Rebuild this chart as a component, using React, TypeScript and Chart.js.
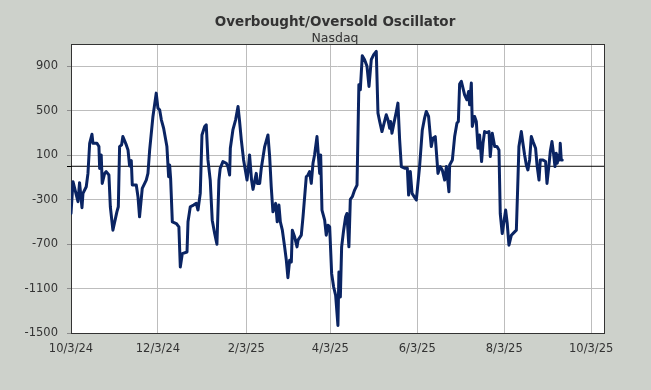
import React, { useEffect, useRef } from 'react';
import { Chart, registerables } from 'chart.js';

Chart.register(...registerables);

const chartTitle = 'Overbought/Oversold Oscillator';
const chartSubtitle = 'Nasdaq';
const seriesName = 'Nasdaq Overbought/Oversold';

const startDate = '10/3/24';
const axisEndDate = '10/12/25';
const xTickLabels = ['10/3/24', '12/3/24', '2/3/25', '4/3/25', '6/3/25', '8/3/25', '10/3/25'];
const yTickValues = [-1500, -1100, -700, -300, 100, 500, 900];
const yMin = -1500;
const yMax = 1100;
const zeroLevel = 0;

// days since startDate
const dayOffsets = [
  0, 1.4, 4.9, 6.0, 7.7, 8.4, 10.7, 11.9, 13.1, 14.7, 15.4, 18.2, 19.6, 20.1, 21.2, 21.9, 23.6, 24.7, 26.6, 27.6,
  29.4, 32.2, 33.2, 34.1, 35.5, 36.4, 38.8, 40.0, 41.1, 42.3, 43.0, 45.8, 47.0, 48.1, 50.0, 52.8, 54.0, 55.2, 57.5, 59.8,
  61.0, 62.2, 63.4, 65.0, 67.3, 68.5, 69.2, 69.9, 71.1, 73.9, 75.7, 76.7, 78.1, 81.4, 82.1, 83.7, 86.0, 87.9, 89.1, 90.7,
  91.9, 93.8, 94.9, 96.1, 97.7, 99.1, 100.8, 102.4, 103.8, 104.7, 106.6, 109.0, 110.1, 111.3, 111.8, 113.6, 115.5, 117.2, 118.3, 119.5,
  121.1, 122.5, 123.5, 124.2, 125.3, 126.7, 127.7, 128.8, 130.0, 130.7, 132.4, 133.5, 135.9, 138.2, 139.4, 140.5, 141.7, 143.6, 144.7, 145.9,
  146.9, 148.3, 149.9, 151.1, 152.2, 153.4, 154.6, 155.3, 156.9, 158.6, 159.3, 161.6, 162.8, 165.1, 166.3, 167.4, 168.6, 169.8, 170.9, 172.6,
  174.5, 175.2, 176.1, 178.0, 179.1, 180.3, 181.5, 182.9, 184.3, 185.7, 187.3, 188.0, 189.0, 189.9, 191.3, 192.7, 193.6, 195.0, 196.0, 197.4,
  199.0, 200.7, 202.0, 203.0, 204.4, 206.0, 207.7, 209.1, 210.7, 212.4, 214.2, 215.4, 216.6, 218.2, 219.4, 221.2, 222.4, 223.6, 224.3, 225.2,
  226.6, 228.3, 229.4, 230.6, 231.8, 234.1, 236.0, 236.9, 238.1, 239.3, 242.3, 244.6, 246.5, 248.1, 249.3, 250.9, 252.8, 254.0, 255.6, 257.5,
  259.1, 260.5, 262.2, 263.4, 265.2, 265.7, 267.6, 269.2, 270.8, 271.8, 272.7, 273.9, 276.2, 277.8, 279.0, 279.7, 280.9, 281.6, 283.2, 284.4,
  285.6, 286.7, 288.1, 289.1, 290.2, 291.9, 293.3, 294.2, 295.6, 297.3, 298.9, 300.3, 301.2, 302.6, 303.6, 305.0, 306.1, 307.3, 309.0, 310.6,
  312.5, 313.6, 314.3, 316.0, 317.1, 318.3, 319.5, 320.6, 321.8, 323.0, 324.2, 326.0, 327.0, 328.4, 329.3, 331.2, 333.0, 334.0, 335.4, 336.3,
  337.5, 338.7, 339.6, 340.5, 341.2, 342.2, 342.9, 343.3, 344.0, 344.7,
];

const oscillatorValues = [
  -425, -139, -319, -148, -373, -244, -184, -64, 207, 288, 207, 207, 177, -19, 102, -154, -64, -48, -78, -364,
  -575, -410, -364, 177, 192, 267, 192, 147, 3, 51, -169, -169, -274, -455, -199, -124, -64, 147, 448, 658,
  523, 508, 418, 342, 177, -94, 12, -109, -500, -515, -545, -906, -786, -771, -500, -364, -349, -334, -394, -244,
  282, 358, 373, 57, -124, -485, -605, -701, -124, -19, 42, 27, -3, -78, 162, 327, 418, 538, 403, 237,
  57, -48, -124, -48, 102, -124, -208, -139, -64, -154, -154, -20, 177, 282, 87, -184, -410, -334, -500, -349,
  -500, -575, -725, -846, -1002, -846, -861, -575, -635, -725, -665, -620, -455, -94, -78, -48, -154, 27, 102, 267,
  -64, 102, -394, -485, -620, -530, -545, -966, -1086, -1161, -1432, -951, -1176, -725, -575, -455, -425, -725, -298, -274,
  -214, -169, 734, 688, 995, 959, 899, 718, 959, 1004, 1034, 478, 403, 312, 373, 463, 418, 342, 403, 297,
  388, 493, 568, 237, -3, -18, -18, -259, -48, -244, -304, -3, 327, 433, 493, 448, 177, 252, 267, -64,
  -3, -33, -124, -3, -229, 12, 57, 267, 388, 403, 740, 764, 643, 598, 673, 553, 749, 358, 448, 403,
  162, 282, 42, 207, 312, 303, 312, 87, 297, 177, 177, 147, -425, -605, -515, -394, -515, -710, -620, -599,
  -575, -124, 177, 312, 207, 102, 12, -33, 57, 267, 222, 162, 12, -124, 57, 57, 42, -154, 12, 132,
  222, 102, -3, 117, 27, 102, 57, 207, 57, 57,
];

const BG = '#cdd1cb';
const TEXT = '#333333';
const LINE = '#0a2463';
const GRID = '#bdbdbd';
const TICK = '#8c8c8c';
const FRAME = '#333333';

function parseMDY(s: string): number {
  const [m, d, y] = s.split('/').map(Number);
  return Date.UTC(2000 + y, m - 1, d) / 86400000;
}
const startDay = parseMDY(startDate);
const toOffset = (s: string) => parseMDY(s) - startDay;

const framePlugin = {
  id: 'framePlugin',
  beforeDraw(chart: any) {
    const { ctx, chartArea: a, width, height } = chart;
    ctx.save();
    ctx.fillStyle = BG;
    ctx.fillRect(0, 0, width, height);
    ctx.fillStyle = '#ffffff';
    ctx.fillRect(a.left, a.top, a.right - a.left, a.bottom - a.top);
    ctx.restore();
  },
  beforeDatasetsDraw(chart: any) {
    const { ctx, chartArea: a, scales } = chart;
    ctx.save();
    ctx.strokeStyle = FRAME;
    ctx.lineWidth = 1;
    ctx.strokeRect(Math.round(a.left) + 0.5, Math.round(a.top) + 0.5, Math.round(a.right - a.left), Math.round(a.bottom - a.top));
    // short stub of the zero line outside the axis
    const y0 = Math.round(scales.y.getPixelForValue(zeroLevel)) + 0.5;
    ctx.strokeStyle = '#000000';
    ctx.beginPath();
    ctx.moveTo(a.left - 4, y0);
    ctx.lineTo(a.left, y0);
    ctx.stroke();
    ctx.restore();
  },
  afterDraw(chart: any) {
    const { ctx } = chart;
    ctx.save();
    ctx.fillStyle = TEXT;
    ctx.textAlign = 'center';
    ctx.textBaseline = 'alphabetic';
    ctx.font = 'bold 13.5px "DejaVu Sans"';
    ctx.fillText(chartTitle, 335, 25.5);
    ctx.font = '12.5px "DejaVu Sans"';
    ctx.fillText(chartSubtitle, 335, 42);
    ctx.restore();
  },
};

export default function App() {
  const ref = useRef<HTMLCanvasElement | null>(null);

  useEffect(() => {
    document.body.style.margin = '0';
    const canvas = ref.current;
    if (!canvas) return;
    const points = dayOffsets.map((d, i) => ({ x: d, y: oscillatorValues[i] }));
    const xMin = 0;
    const xMax = toOffset(axisEndDate);
    const chart = new Chart(canvas, {
      type: 'line',
      data: {
        datasets: [
          {
            label: seriesName,
            data: points,
            borderColor: LINE,
            borderWidth: 3,
            pointRadius: 0,
            tension: 0,
            borderJoinStyle: 'round',
            borderCapStyle: 'round',
            fill: false,
          },
          {
            label: 'Zero',
            data: [
              { x: xMin, y: zeroLevel },
              { x: xMax, y: zeroLevel },
            ],
            borderColor: '#000000',
            borderWidth: 1,
            pointRadius: 0,
            fill: false,
          },
        ],
      },
      options: {
        animation: false,
        responsive: false,
        maintainAspectRatio: false,
        devicePixelRatio: 1,
        layout: { padding: { left: 0, top: 44, right: 47, bottom: 27 } },
        plugins: {
          legend: { display: false },
          title: { display: false },
          tooltip: { enabled: false },
        },
        scales: {
          x: {
            type: 'linear',
            min: xMin,
            max: xMax,
            afterBuildTicks: (scale: any) => {
              scale.ticks = xTickLabels.map((l) => ({ value: toOffset(l) }));
            },
            afterFit: (scale: any) => {
              scale.height = 30;
            },
            grid: { color: GRID, lineWidth: 1, drawTicks: false, tickLength: 0 },
            border: { display: false },
            ticks: {
              autoSkip: false,
              maxRotation: 0,
              padding: 9,
              color: TEXT,
              font: { family: '"DejaVu Sans"', size: 11.5 },
              callback: (v: any) => {
                const l = xTickLabels.find((t) => toOffset(t) === v);
                return l ?? '';
              },
            },
          },
          y: {
            type: 'linear',
            min: yMin,
            max: yMax,
            afterBuildTicks: (scale: any) => {
              scale.ticks = yTickValues.map((v) => ({ value: v }));
            },
            afterFit: (scale: any) => {
              scale.width = 71;
            },
            grid: { color: GRID, lineWidth: 1, tickLength: 4, tickColor: TICK },
            border: { display: false },
            ticks: {
              autoSkip: false,
              padding: 9,
              color: TEXT,
              font: { family: '"DejaVu Sans"', size: 11.5 },
              callback: (v: any) => String(v),
            },
          },
        },
      },
      plugins: [framePlugin],
    });
    return () => chart.destroy();
  }, []);

  return (
    <div style={{ width: 651, height: 390, background: BG }}>
      <canvas ref={ref} width={651} height={390} style={{ display: 'block', width: 651, height: 390 }} />
    </div>
  );
}
